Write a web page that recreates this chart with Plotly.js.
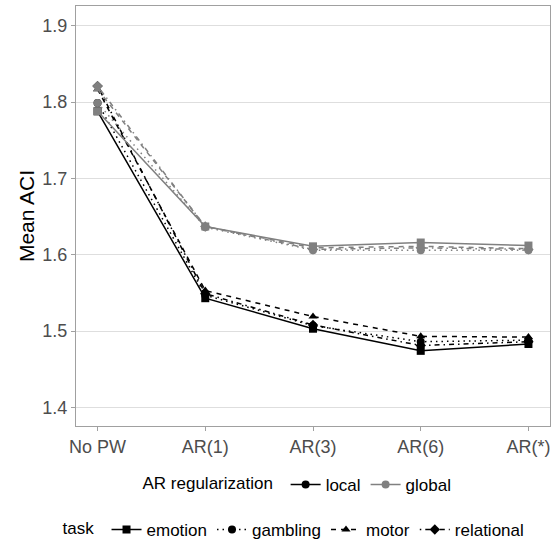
<!DOCTYPE html>
<html>
<head>
<meta charset="utf-8">
<script src="https://cdn.plot.ly/plotly-3.0.1.min.js"></script>
<style>html,body{margin:0;padding:0;background:#fff;}#chart{width:551px;height:543px;}</style>
</head>
<body>
<div id="chart"></div>
<script>
const categories = ["No PW", "AR(1)", "AR(3)", "AR(6)", "AR(*)"];
const tasks = ["emotion", "gambling", "motor", "relational"];
const regs = ["local", "global"];

// Mean ACI values
const localEmotion    = [1.788, 1.543, 1.503, 1.474, 1.483];
const localGambling   = [1.799, 1.547, 1.507, 1.486, 1.488];
const localMotor      = [1.817, 1.553, 1.519, 1.493, 1.492];
const localRelational = [1.821, 1.549, 1.508, 1.481, 1.486];

const globalEmotion    = [1.788, 1.637, 1.611, 1.616, 1.612];
const globalGambling   = [1.799, 1.636, 1.606, 1.606, 1.606];
const globalMotor      = [1.817, 1.637, 1.609, 1.611, 1.608];
const globalRelational = [1.821, 1.637, 1.607, 1.609, 1.607];

const series = {
  local: [localEmotion, localGambling, localMotor, localRelational],
  global: [globalEmotion, globalGambling, globalMotor, globalRelational]
};

const regColor = {local: "#000000", global: "#808080"};
const taskSymbol = {emotion: "square", gambling: "circle", motor: "triangle-up", relational: "diamond"};
const taskDash = {emotion: "solid", gambling: "1.5px,4px", motor: "5px,5px", relational: "1.5px,4px,5px,4px"};

const traces = [];
regs.forEach(r => {
  tasks.forEach((t, i) => {
    traces.push({
      x: categories, y: series[r][i], type: "scatter", mode: "lines+markers",
      line: {color: regColor[r], width: 1.5, dash: taskDash[t]},
      marker: {color: regColor[r], symbol: taskSymbol[t], size: 8},
      showlegend: false, hoverinfo: "skip"
    });
  });
});
// legend entries: AR regularization
regs.forEach(r => {
  traces.push({
    x: [null], y: [null], type: "scatter", mode: "lines+markers", name: r,
    line: {color: regColor[r], width: 1.5}, marker: {color: regColor[r], symbol: "circle", size: 8},
    legend: "legend", showlegend: true
  });
});
// legend entries: task
tasks.forEach(t => {
  traces.push({
    x: [null], y: [null], type: "scatter", mode: "lines+markers", name: t,
    line: {color: "#000000", width: 1.5, dash: taskDash[t]}, marker: {color: "#000000", symbol: taskSymbol[t], size: 8},
    legend: "legend2", showlegend: true
  });
});

const layout = {
  width: 551, height: 543,
  margin: {l: 76, r: 1, t: 6, b: 117},
  paper_bgcolor: "#ffffff", plot_bgcolor: "#ffffff",
  font: {family: "Liberation Sans, Arial, sans-serif", color: "#000"},
  xaxis: {
    type: "category", range: [-0.2, 4.2],
    showgrid: false, zeroline: false,
    showline: true, mirror: true, linecolor: "#A0A0A0", linewidth: 1.2,
    ticks: "outside", ticklen: 4, tickcolor: "#A0A0A0", tickwidth: 1,
    tickfont: {size: 18, color: "#4D4D4D"}
  },
  yaxis: {
    range: [1.3755, 1.926], tickvals: [1.4, 1.5, 1.6, 1.7, 1.8, 1.9],
    ticktext: ["1.4", "1.5", "1.6", "1.7", "1.8", "1.9"],
    showgrid: true, gridcolor: "#DEDEDE", gridwidth: 1, zeroline: false,
    showline: true, mirror: true, linecolor: "#A0A0A0", linewidth: 1.2,
    ticks: "outside", ticklen: 4, tickcolor: "#A0A0A0", tickwidth: 1,
    tickfont: {size: 18, color: "#4D4D4D"},
    title: {text: "Mean ACI", font: {size: 21, color: "#000"}, standoff: 1}
  },
  legend: {
    orientation: "h", xref: "container", yref: "container",
    x: 0.255, xanchor: "left", y: 0.107, yanchor: "middle",
    title: {text: "AR regularization ", font: {size: 17, color: "#000"}},
    font: {size: 17, color: "#000"}, itemwidth: 30, bgcolor: "rgba(0,0,0,0)"
  },
  legend2: {
    orientation: "h", xref: "container", yref: "container",
    x: 0.11, xanchor: "left", y: 0.024, yanchor: "middle",
    title: {text: "task ", font: {size: 17, color: "#000"}},
    font: {size: 17, color: "#000"}, itemwidth: 30, bgcolor: "rgba(0,0,0,0)"
  }
};

Plotly.newPlot("chart", traces, layout, {displayModeBar: false, staticPlot: true});
</script>
</body>
</html>
